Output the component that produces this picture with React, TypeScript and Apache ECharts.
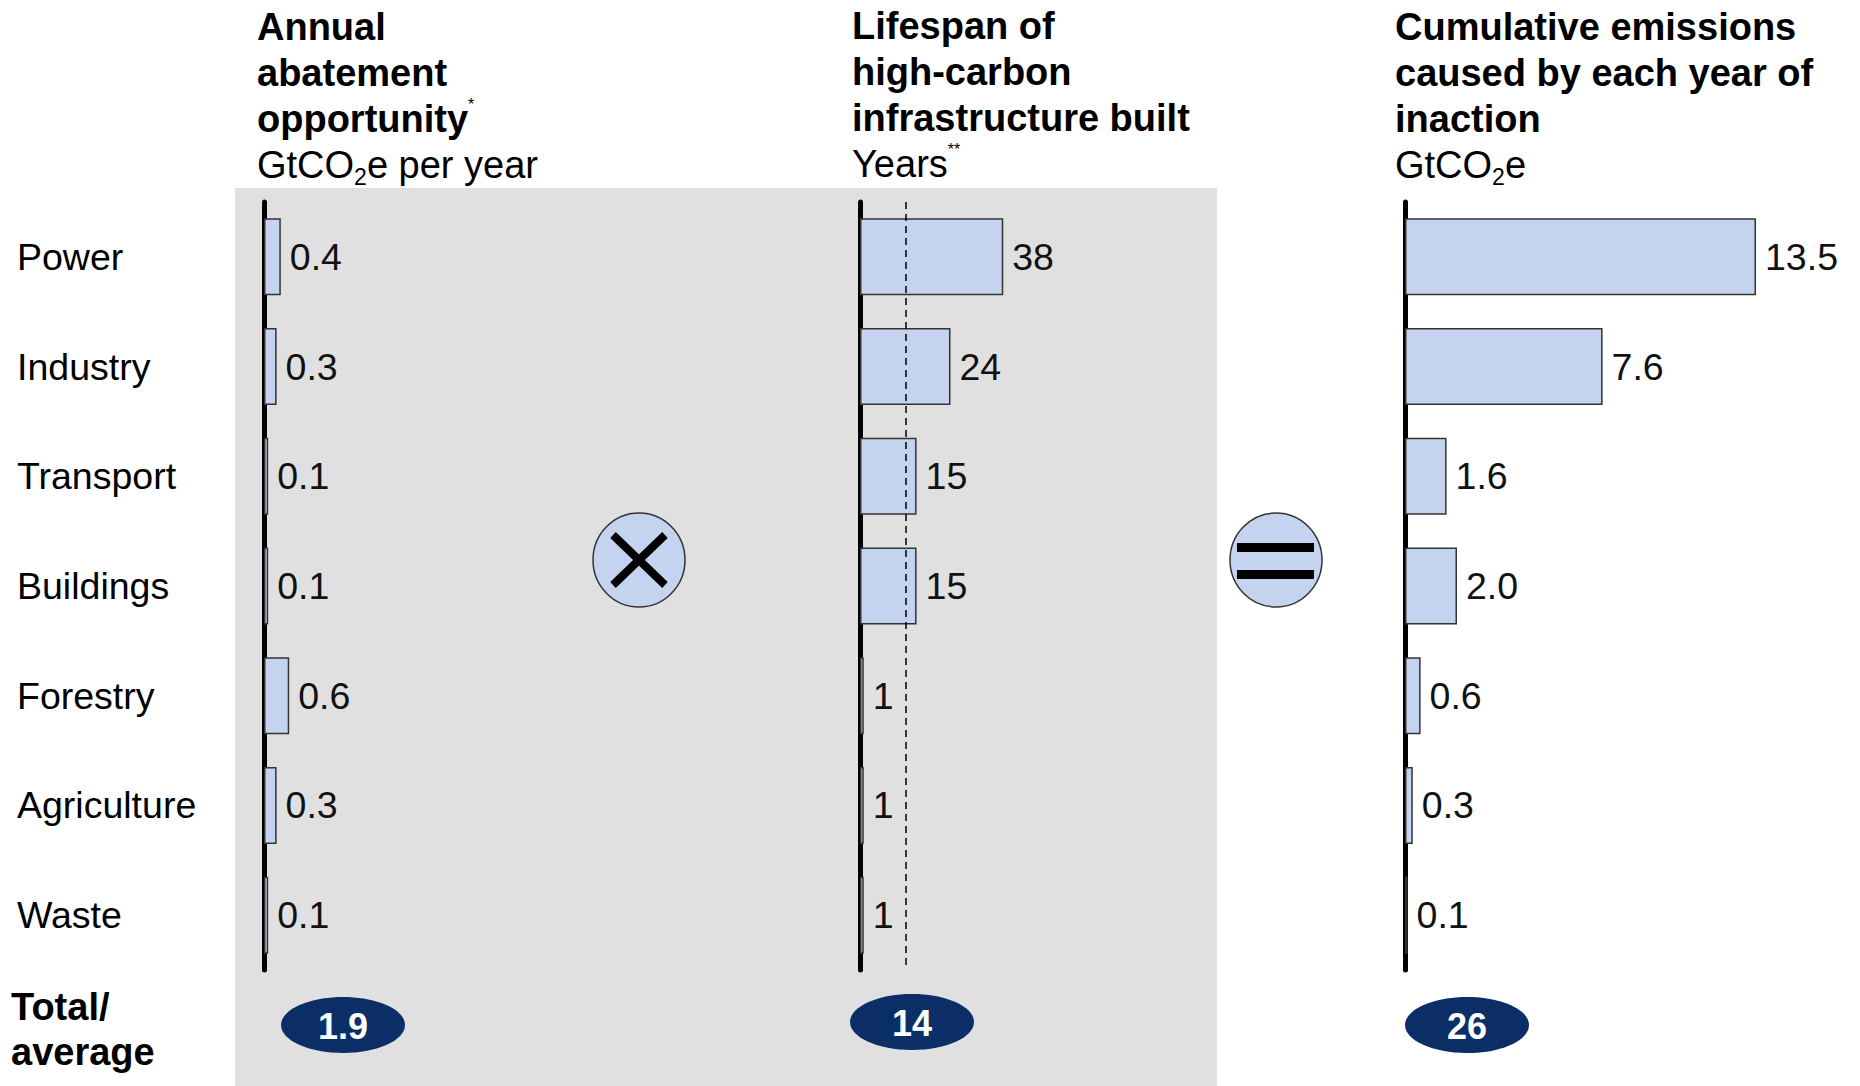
import React, { useEffect, useRef } from "react";
import * as echarts from "echarts";

const categories = ["Power", "Industry", "Transport", "Buildings", "Forestry", "Agriculture", "Waste"];
const abatement = [0.4, 0.3, 0.1, 0.1, 0.6, 0.3, 0.1];
const lifespan = [38, 24, 15, 15, 1, 1, 1];
const cumulative = [13.5, 7.6, 1.6, 2.0, 0.6, 0.3, 0.1];
const totals = ["1.9", "14", "26"];
const lifespanMarker = 12.2;

const FONT = "'Liberation Sans', Arial, sans-serif";
const BAR_FILL = "#c5d4ee";
const BAR_BORDER = "#333333";
const NAVY = "#0b2e66";

const gridTop = 202;
const gridHeight = 768;

const panels = [
  { left: 264, width: 420, max: 10, data: abatement, fmt: (v: number) => v.toFixed(1) },
  { left: 860, width: 377, max: 100, data: lifespan, fmt: (v: number) => String(v) },
  { left: 1405, width: 390, max: 15, data: cumulative, fmt: (v: number) => v.toFixed(1) },
];

const titleRich = {
  b: { fontFamily: FONT, fontSize: 38, fontWeight: "bold", lineHeight: 46, fill: "#000" },
  r: { fontFamily: FONT, fontSize: 38, lineHeight: 46, fill: "#000" },
  sub: { fontFamily: FONT, fontSize: 23, lineHeight: 20, verticalAlign: "bottom", fill: "#000" },
  sup: { fontFamily: FONT, fontSize: 16, lineHeight: 18, verticalAlign: "top", fill: "#000" },
};

export default function App() {
  const ref = useRef<HTMLDivElement>(null);

  useEffect(() => {
    if (!ref.current) return;
    const chart = echarts.init(ref.current, null, { renderer: "svg" });

    const grids = panels.map((p) => ({ left: p.left, width: p.width, top: gridTop, height: gridHeight }));
    const xAxes = panels.map((p, i) => ({
      type: "value",
      gridIndex: i,
      min: 0,
      max: p.max,
      show: false,
      splitLine: { show: false },
    }));
    const yAxes = panels.map((p, i) => ({
      type: "category",
      gridIndex: i,
      data: categories,
      inverse: true,
      axisLine: { show: true, lineStyle: { color: "#000", width: 5 } },
      axisTick: { show: false },
      axisLabel:
        i === 0
          ? { show: true, margin: 247, align: "left", fontSize: 37.5, color: "#000", fontFamily: FONT }
          : { show: false },
      splitLine: { show: false },
    }));
    const series = panels.map((p, i) => ({
      type: "bar",
      xAxisIndex: i,
      yAxisIndex: i,
      data: p.data,
      barWidth: 77,
      itemStyle: { color: BAR_FILL, borderColor: BAR_BORDER, borderWidth: 1.5 },
      label: {
        show: true,
        position: "right",
        distance: 9,
        fontSize: 37.5,
        color: "#111",
        fontFamily: FONT,
        formatter: (d: any) => p.fmt(d.value),
      },
      z: 3,
      markLine:
        i === 1
          ? {
              silent: true,
              symbol: "none",
              label: { show: false },
              lineStyle: { color: "#000", type: [7, 5], width: 1.5 },
              data: [{ xAxis: lifespanMarker }],
            }
          : undefined,
    }));

    const ellipseCenters = [
      [343, 1025],
      [912, 1022],
      [1467, 1025],
    ];

    const graphic: any[] = [
      { type: "rect", shape: { x: 235, y: 188, width: 982, height: 898 }, style: { fill: "#e0e0e0" }, z: -10 },
      {
        type: "text",
        x: 257,
        y: 4,
        style: {
          text: "{b|Annual}\n{b|abatement}\n{b|opportunity}{sup|*}\n{r|GtCO}{sub|2}{r|e per year}",
          rich: titleRich,
          textAlign: "left",
          textVerticalAlign: "top",
        },
      },
      {
        type: "text",
        x: 852,
        y: 3,
        style: {
          text: "{b|Lifespan of}\n{b|high-carbon}\n{b|infrastructure built}\n{r|Years}{sup|**}",
          rich: titleRich,
          textAlign: "left",
          textVerticalAlign: "top",
        },
      },
      {
        type: "text",
        x: 1395,
        y: 4,
        style: {
          text: "{b|Cumulative emissions}\n{b|caused by each year of}\n{b|inaction}\n{r|GtCO}{sub|2}{r|e}",
          rich: titleRich,
          textAlign: "left",
          textVerticalAlign: "top",
        },
      },
      {
        type: "text",
        x: 11,
        y: 984,
        style: {
          text: "Total/\naverage",
          fontFamily: FONT,
          fontSize: 38,
          fontWeight: "bold",
          lineHeight: 45,
          fill: "#000",
          textAlign: "left",
          textVerticalAlign: "top",
        },
      },
      // multiply operator
      {
        type: "ellipse",
        shape: { cx: 639, cy: 560, rx: 46, ry: 47 },
        style: { fill: BAR_FILL, stroke: "#333", lineWidth: 1.5 },
      },
      { type: "line", shape: { x1: 613, y1: 535, x2: 665, y2: 585 }, style: { stroke: "#000", lineWidth: 8 } },
      { type: "line", shape: { x1: 665, y1: 535, x2: 613, y2: 585 }, style: { stroke: "#000", lineWidth: 8 } },
      // equals operator
      {
        type: "ellipse",
        shape: { cx: 1276, cy: 560, rx: 46, ry: 47 },
        style: { fill: BAR_FILL, stroke: "#333", lineWidth: 1.5 },
      },
      { type: "rect", shape: { x: 1237, y: 543, width: 77, height: 9 }, style: { fill: "#000" } },
      { type: "rect", shape: { x: 1237, y: 570, width: 77, height: 9 }, style: { fill: "#000" } },
    ];

    totals.forEach((t, i) => {
      const [cx, cy] = ellipseCenters[i];
      graphic.push({
        type: "ellipse",
        shape: { cx, cy, rx: 62, ry: 28 },
        style: { fill: NAVY },
      });
      graphic.push({
        type: "text",
        x: cx,
        y: cy + 1,
        style: {
          text: t,
          fontFamily: FONT,
          fontSize: 36,
          fontWeight: "bold",
          fill: "#fff",
          textAlign: "center",
          textVerticalAlign: "middle",
        },
      });
    });

    chart.setOption({
      animation: false,
      backgroundColor: "#ffffff",
      grid: grids,
      xAxis: xAxes,
      yAxis: yAxes,
      series,
      graphic,
    } as any);

    return () => chart.dispose();
  }, []);

  return (
    <div
      ref={ref}
      style={{ position: "fixed", left: 0, top: 0, width: 1860, height: 1086 }}
    />
  );
}
